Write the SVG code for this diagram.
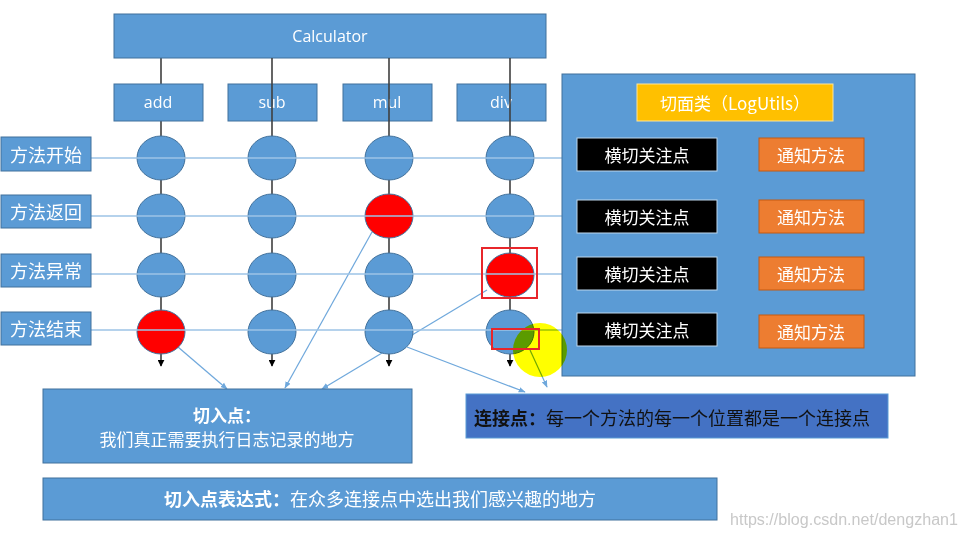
<svg xmlns="http://www.w3.org/2000/svg" width="961" height="536" viewBox="0 0 961 536">
<defs>
<style>
.box{fill:#5B9BD5;stroke:#41719C;stroke-width:1}
.wt{fill:#fff;font-family:"Open Sans","Liberation Sans",sans-serif;font-size:16px;text-anchor:middle;dominant-baseline:central}
.cn{fill:#fff;font-family:"Noto Sans CJK SC",sans-serif;font-size:17px;text-anchor:middle;dominant-baseline:central}
.node{fill:#5B9BD5;stroke:#41719C;stroke-width:1}
.red{fill:#FF0000;stroke:#41719C;stroke-width:1}
.vline{stroke:#3F3F3F;stroke-width:1.6;fill:none}
.hline{stroke:#9DC3E6;stroke-width:1.6;fill:none}
.conn{stroke:#6FA8DC;stroke-width:1.2;fill:none;marker-end:url(#ah)}
.blk{fill:#000;stroke:#BDD7EE;stroke-width:1}
.org{fill:#ED7D31;stroke:#C55A11;stroke-width:1}
.hl{fill:none;stroke:#E8262B;stroke-width:2}
</style>
<marker id="ah" viewBox="0 0 10 10" refX="9" refY="5" markerWidth="7" markerHeight="7" orient="auto" markerUnits="userSpaceOnUse"><path d="M0,1 L10,5 L0,9 z" fill="#6FA8DC"/></marker>
<marker id="bh" viewBox="0 0 10 10" refX="9" refY="5" markerWidth="7" markerHeight="7" orient="auto" markerUnits="userSpaceOnUse"><path d="M0,0 L10,5 L0,10 z" fill="#000"/></marker>
</defs>
<rect width="961" height="536" fill="#fff"/>

<g id="vertical-lines">
<line class="vline" x1="161" y1="58" x2="161" y2="85"/>
<line class="vline" x1="161" y1="121" x2="161" y2="366" marker-end="url(#bh)"/>
</g>

<g id="calculator"><rect class="box" x="114" y="14" width="432" height="44"/><text class="wt" x="330" y="36">Calculator</text></g>
<g id="m-add"><rect class="box" x="114" y="84" width="89" height="37"/><text class="wt" x="158" y="102">add</text></g>
<g id="m-sub"><rect class="box" x="228" y="84" width="89" height="37"/><text class="wt" x="272" y="102">sub</text></g>
<g id="m-mul"><rect class="box" x="343" y="84" width="89" height="37"/><text class="wt" x="387" y="102">mul</text></g>
<g id="m-div"><rect class="box" x="457" y="84" width="89" height="37"/><text class="wt" x="501" y="102">div</text></g>

<g id="connectors">
<line class="vline" x1="272" y1="58" x2="272" y2="366" marker-end="url(#bh)"/>
<line class="vline" x1="389" y1="58" x2="389" y2="366" marker-end="url(#bh)"/>
<line class="vline" x1="510" y1="58" x2="510" y2="366" marker-end="url(#bh)"/>
<line class="conn" x1="178" y1="347" x2="227" y2="389"/>
<line class="conn" x1="372" y1="232" x2="285" y2="388"/>
<line class="conn" x1="487" y1="290" x2="322" y2="389"/>
<line class="conn" x1="407" y1="347" x2="525" y2="392"/>
<line class="conn" x1="530" y1="350" x2="547" y2="387"/>
</g>

<g id="joinpoints">
<ellipse class="node" cx="161" cy="158" rx="24" ry="22"/>
<ellipse class="node" cx="272" cy="158" rx="24" ry="22"/>
<ellipse class="node" cx="389" cy="158" rx="24" ry="22"/>
<ellipse class="node" cx="510" cy="158" rx="24" ry="22"/>
<ellipse class="node" cx="161" cy="216" rx="24" ry="22"/>
<ellipse class="node" cx="272" cy="216" rx="24" ry="22"/>
<ellipse class="red" cx="389" cy="216" rx="24" ry="22"/>
<ellipse class="node" cx="510" cy="216" rx="24" ry="22"/>
<ellipse class="node" cx="161" cy="275" rx="24" ry="22"/>
<ellipse class="node" cx="272" cy="275" rx="24" ry="22"/>
<ellipse class="node" cx="389" cy="275" rx="24" ry="22"/>
<ellipse class="red" cx="510" cy="275" rx="24" ry="22"/>
<ellipse class="red" cx="161" cy="332" rx="24" ry="22"/>
<ellipse class="node" cx="272" cy="332" rx="24" ry="22"/>
<ellipse class="node" cx="389" cy="332" rx="24" ry="22"/>
<ellipse class="node" cx="510" cy="332" rx="24" ry="22"/>
</g>

<g id="row-lines">
<line class="hline" x1="91" y1="158" x2="562" y2="158"/>
<line class="hline" x1="91" y1="216" x2="562" y2="216"/>
<line class="hline" x1="91" y1="274" x2="562" y2="274"/>
<line class="hline" x1="91" y1="330" x2="562" y2="330"/>
</g>

<g id="lbl-start"><rect class="box" x="1" y="137" width="90" height="34"/><text class="cn" x="46" y="154" style="font-size:18px">方法开始</text></g>
<g id="lbl-return"><rect class="box" x="1" y="195" width="90" height="33"/><text class="cn" x="46" y="211" style="font-size:18px">方法返回</text></g>
<g id="lbl-except"><rect class="box" x="1" y="254" width="90" height="33"/><text class="cn" x="46" y="270" style="font-size:18px">方法异常</text></g>
<g id="lbl-end"><rect class="box" x="1" y="312" width="90" height="33"/><text class="cn" x="46" y="328" style="font-size:18px">方法结束</text></g>

<g id="aspect">
<rect class="box" x="562" y="74" width="353" height="302"/>
<rect x="637" y="84" width="196" height="37" fill="#FFC000" stroke="#FFE699" stroke-width="1"/>
<text class="cn" x="735" y="102">切面类（LogUtils）</text>
<rect class="blk" x="577" y="138" width="140" height="33"/><text class="cn" x="647" y="154">横切关注点</text>
<rect class="blk" x="577" y="200" width="140" height="33"/><text class="cn" x="647" y="216">横切关注点</text>
<rect class="blk" x="577" y="257" width="140" height="33"/><text class="cn" x="647" y="273">横切关注点</text>
<rect class="blk" x="577" y="313" width="140" height="33"/><text class="cn" x="647" y="329">横切关注点</text>
<rect class="org" x="759" y="138" width="105" height="33"/><text class="cn" x="811" y="154">通知方法</text>
<rect class="org" x="759" y="200" width="105" height="33"/><text class="cn" x="811" y="216">通知方法</text>
<rect class="org" x="759" y="257" width="105" height="33"/><text class="cn" x="811" y="273">通知方法</text>
<rect class="org" x="759" y="315" width="105" height="33"/><text class="cn" x="811" y="331">通知方法</text>
</g>

<g id="cursor-highlight">
<circle cx="540" cy="350" r="27" fill="#FFFF00" style="mix-blend-mode:multiply"/>
</g>

<g id="highlights">
<rect class="hl" x="482" y="248" width="55" height="50"/>
<rect class="hl" x="492" y="329" width="47" height="20"/>
</g>

<g id="pointcut">
<rect class="box" x="43" y="389" width="369" height="74"/>
<text class="cn" x="227" y="414" style="font-weight:bold">切入点：</text>
<text class="cn" x="227" y="438">我们真正需要执行日志记录的地方</text>
</g>

<g id="joinpoint-def">
<rect x="466" y="394" width="422" height="44" fill="#4472C4" stroke="#5B9BD5" stroke-width="1"/>
<text x="474" y="417" style="font-family:'Noto Sans CJK SC',sans-serif;font-size:18px;fill:#111;dominant-baseline:central"><tspan font-weight="bold">连接点：</tspan>每一个方法的每一个位置都是一个连接点</text>
</g>

<g id="pointcut-expr">
<rect class="box" x="43" y="478" width="674" height="42"/>
<text class="cn" x="380" y="498" style="font-size:18px"><tspan font-weight="bold">切入点表达式：</tspan>在众多连接点中选出我们感兴趣的地方</text>
</g>

<text x="730" y="525" textLength="228" lengthAdjust="spacingAndGlyphs" style="font-family:'Liberation Sans',sans-serif;font-size:16px;fill:#C8C8C8">https://blog.csdn.net/dengzhan1</text>
</svg>
